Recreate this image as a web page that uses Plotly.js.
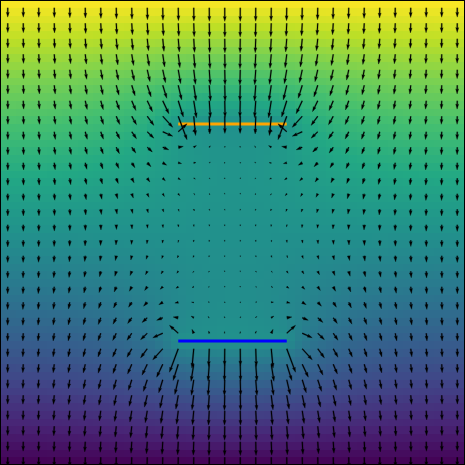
<!DOCTYPE html>
<html><head><meta charset="utf-8">
<script src="https://cdn.plot.ly/plotly-3.0.1.min.js"></script>
<style>html,body{margin:0;padding:0;background:#fff;overflow:hidden}</style>
</head><body><div id="chart" style="width:465px;height:465px"></div>
<script>
// ---- data: problem definition ----
const gridCells = 60;                 // heatmap cells per side
const topPotential = 1.0;             // top edge (yellow)
const bottomPotential = 0.0;          // bottom edge (purple)
const plateRows = [16, 44];           // plate positions (grid rows from top)
const plateStart = [23, 23];          // plate left ends (grid columns)
const plateEnd = [37, 37];            // plate right ends
const platePotential = [0.5, 0.5];    // both plates held at mid potential
const plateColors = ['#ffa500', '#0000ff'];
const arrowStep = 2;                  // one arrow every 2 grid nodes

// ---- solve Laplace equation on node grid (0..gridCells) ----
const N = gridCells + 1;
const V = [], fixed = [];
for (let r = 0; r < N; r++) {
  V.push(new Float64Array(N)); fixed.push(new Uint8Array(N));
  for (let c = 0; c < N; c++) V[r][c] = topPotential + (bottomPotential - topPotential) * r / gridCells;
}
for (let c = 0; c < N; c++) { V[0][c] = topPotential; fixed[0][c] = 1; V[N-1][c] = bottomPotential; fixed[N-1][c] = 1; }
plateRows.forEach((pr, i) => { for (let c = plateStart[i]; c <= plateEnd[i]; c++) { V[pr][c] = platePotential[i]; fixed[pr][c] = 1; } });
const omega = 1.9;
for (let it = 0; it < 3000; it++) {
  for (let r = 1; r < N - 1; r++) {
    for (let c = 0; c < N; c++) {
      if (fixed[r][c]) continue;
      const l = c > 0 ? V[r][c-1] : V[r][c+1];
      const rr = c < N - 1 ? V[r][c+1] : V[r][c-1];
      const nv = 0.25 * (l + rr + V[r-1][c] + V[r+1][c]);
      V[r][c] += omega * (nv - V[r][c]);
    }
  }
}
// heatmap cells
const z = [], cx = [], cy = [];
for (let k = 0; k < gridCells; k++) { cx.push(k + 0.5); cy.push(k + 0.5); }
for (let k = 0; k < gridCells; k++) {
  const row = [];
  for (let j = 0; j < gridCells; j++) row.push(0.25 * (V[k][j] + V[k+1][j] + V[k][j+1] + V[k+1][j+1]));
  z.push(row);
}
// field at arrow nodes
const arrows = [];
for (let r = 1; r < N - 1; r += arrowStep) for (let c = 1; c < N - 1; c += arrowStep) {
  const ex = -(V[r][c+1] - V[r][c-1]) / 2;
  const ey = -(V[r+1][c] - V[r-1][c]) / 2;   // positive = downward on screen
  arrows.push([c, r, ex, ey]);
}
const mags = arrows.map(a => Math.hypot(a[2], a[3]));
const meanMag = mags.reduce((s, m) => s + m, 0) / mags.length;
const plotPx = 465, pxPerUnit = plotPx / gridCells;
const sn = Math.sqrt(arrows.length);
const w = 1.0;                         // shaft width (px)
const hw = 3, hl = 5, hal = 4.5;       // head sizes in shaft widths
const ax = [], ay = [];
arrows.forEach((a, i) => {
  const m = mags[i];
  const Lpx = m * plotPx / (1.8 * sn * meanMag);
  const L = Lpx / w;                   // in shaft widths
  let X, Y;
  if (L < 1) {
    X = [], Y = [];
    for (let k = 0; k < 6; k++) { const t = k * Math.PI / 3; X.push(0.5 * Math.cos(t)); Y.push(0.5 * Math.sin(t)); }
  } else if (L >= hl) {
    X = [0, L - hal, L - hl, L, L - hl, L - hal, 0];
    Y = [0.5, 0.5, hw / 2, 0, -hw / 2, -0.5, -0.5];
  } else {
    const s = L / hl;
    X = [0, hl - hal, 0, hl, 0, hl - hal, 0].map(v => v * s);
    Y = [0.5, 0.5, hw / 2, 0, -hw / 2, -0.5, -0.5].map(v => v * s);
  }
  const dx = m > 0 ? a[2] / m : 0, dy = m > 0 ? a[3] / m : 1;
  for (let k = 0; k < X.length; k++) {
    const px = X[k] * w * dx - Y[k] * w * dy;
    const py = X[k] * w * dy + Y[k] * w * dx;
    ax.push(a[0] + px / pxPerUnit); ay.push(a[1] + py / pxPerUnit);
  }
  ax.push(null); ay.push(null);
});

const viridis = [[0,'#440154'],[0.1,'#482475'],[0.2,'#414487'],[0.3,'#355f8d'],[0.4,'#2a788e'],[0.5,'#21918c'],[0.6,'#22a884'],[0.7,'#44bf70'],[0.8,'#7ad151'],[0.9,'#bddf26'],[1,'#fde725']];
const traces = [{
  type: 'heatmap', x: cx, y: cy, z: z, colorscale: viridis, zmin: bottomPotential, zmax: topPotential,
  showscale: false, zsmooth: false, hoverinfo: 'skip'
}];
plateRows.forEach((pr, i) => traces.push({
  type: 'scatter', mode: 'lines', x: [plateStart[i], plateEnd[i]], y: [pr, pr],
  line: { color: plateColors[i], width: 3 }, hoverinfo: 'skip', showlegend: false
}));
traces.push({
  type: 'scatter', mode: 'lines', x: ax, y: ay, fill: 'toself', fillcolor: '#000000',
  line: { color: '#000000', width: 0.3 }, connectgaps: false, hoverinfo: 'skip', showlegend: false
});
Plotly.newPlot('chart', traces, {
  width: 465, height: 465, margin: { l: 0, r: 0, t: 0, b: 0 },
  paper_bgcolor: '#ffffff', plot_bgcolor: '#ffffff', showlegend: false,
  xaxis: { range: [0, gridCells], showgrid: false, zeroline: false, showticklabels: false, ticks: '' },
  yaxis: { range: [gridCells, 0], showgrid: false, zeroline: false, showticklabels: false, ticks: '' },
  shapes: [{ type: 'rect', xref: 'paper', yref: 'paper', x0: 0, y0: 0, x1: 1, y1: 1, line: { color: '#000', width: 2 } }]
}, { staticPlot: true });
</script></body></html>
